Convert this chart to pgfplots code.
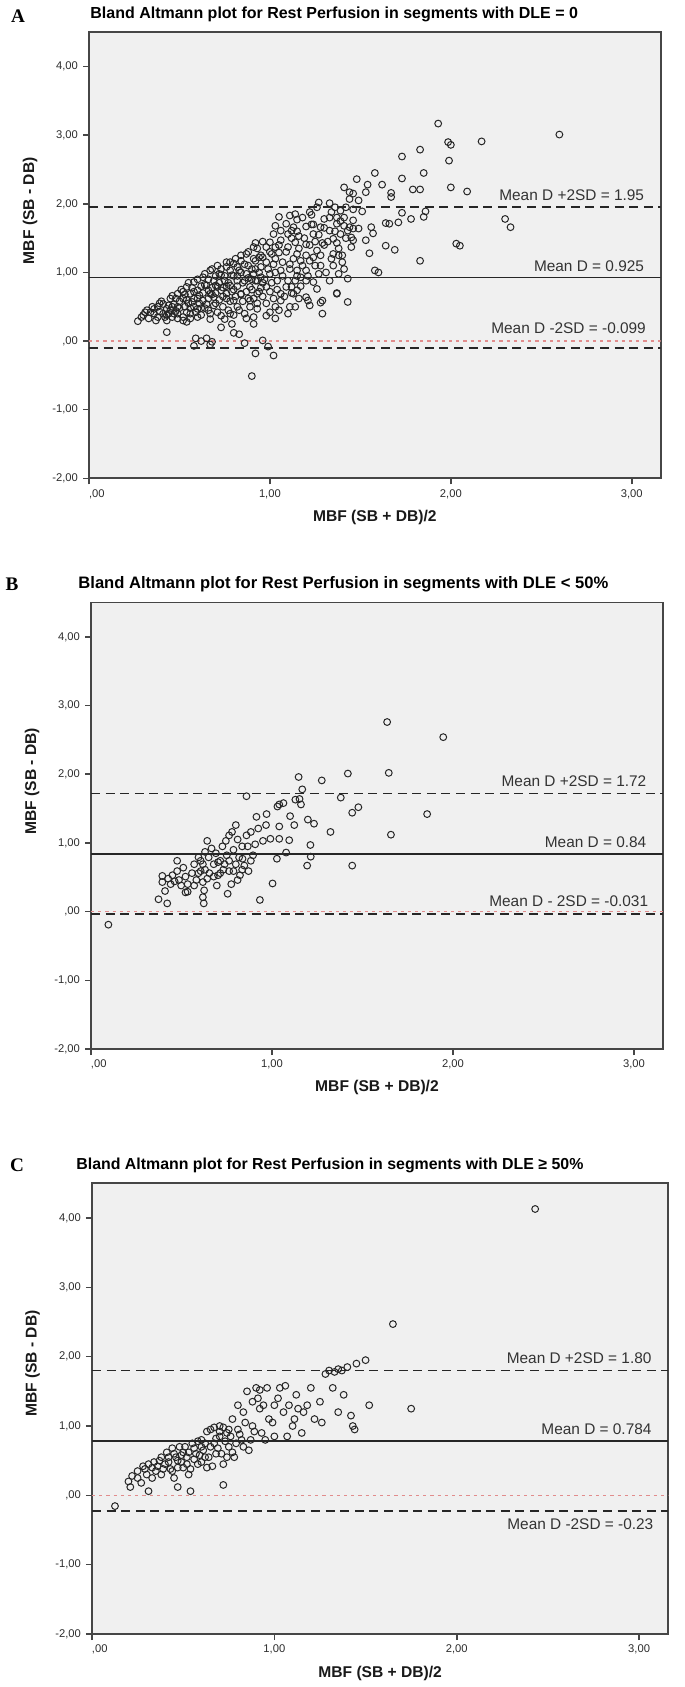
\documentclass[border=0pt]{standalone}
\usepackage{pgfplots}
\pgfplotsset{compat=1.18}
\usepackage{pgfplotstable}
\usepackage{fontspec}
\setmainfont{Liberation Sans}
\newfontfamily\serifletter{Liberation Serif}
\definecolor{bggray}{RGB}{240,240,240}
\definecolor{axisgray}{RGB}{70,70,70}
\definecolor{labgray}{RGB}{45,45,45}
\definecolor{zeroline}{RGB}{225,140,140}

\pgfplotstableread{
x y
1.93 3.17
2.60 3.01
2.17 2.91
1.985 2.90
2.00 2.86
1.83 2.79
1.73 2.69
1.99 2.63
1.58 2.45
1.85 2.45
1.48 2.36
1.73 2.37
1.54 2.28
1.62 2.28
1.41 2.24
1.79 2.21
1.83 2.21
2.00 2.24
2.09 2.18
1.53 2.17
1.46 2.15
1.44 2.17
1.67 2.16
1.67 2.10
1.44 2.07
1.49 2.05
1.46 1.92
1.51 1.89
1.73 1.87
1.78 1.78
1.85 1.81
1.86 1.89
2.30 1.78
2.33 1.66
1.64 1.72
1.66 1.71
1.71 1.73
1.56 1.66
1.57 1.57
1.53 1.47
1.55 1.28
1.64 1.39
1.69 1.33
2.03 1.42
2.05 1.39
1.83 1.17
1.58 1.03
1.60 1.00
1.43 0.91
1.43 0.57
1.29 0.40
1.28 0.56
1.37 0.70
1.03 0.33
1.02 -0.21
0.92 -0.18
0.90 -0.51
0.99 -0.08
0.96 0.01
0.86 -0.03
0.83 0.10
0.80 0.12
0.58 -0.07
0.59 0.04
0.65 0.04
0.62 0.00
0.68 -0.01
0.67 -0.05
0.27 0.29
0.43 0.13
0.34 0.42
0.73 0.20
0.79 0.25
1.27 2.02
1.33 2.01
1.26 1.95
1.34 1.88
1.23 1.84
1.30 1.78
1.37 1.71
1.41 1.68
1.49 1.64
1.46 1.64
1.39 1.56
1.35 1.49
1.46 1.47
1.37 1.43
1.30 1.40
1.38 1.25
1.40 1.15
1.35 1.10
1.41 1.05
1.38 0.98
1.33 0.88
1.27 0.98
1.26 0.76
1.28 1.10
1.20 1.03
1.22 1.17
1.15 1.27
1.17 0.93
1.12 0.79
1.22 0.52
1.11 0.50
1.10 0.40
1.06 0.69
1.03 0.50
1.00 0.42
0.98 0.37
0.93 0.47
0.91 0.25
0.87 0.33
0.91 0.35
1.06 0.59
1.20 0.64
1.15 0.74
1.24 0.86
1.35 1.27
1.29 1.43
1.24 1.56
1.20 1.67
1.15 1.77
1.13 1.66
1.09 1.71
1.10 1.56
1.06 1.47
1.03 1.37
1.02 1.56
1.00 1.44
0.98 1.37
0.92 1.43
0.91 1.37
0.94 1.22
0.87 1.27
0.84 1.17
0.80 1.13
0.76 1.15
0.71 1.10
0.67 1.03
0.63 0.93
0.58 0.86
0.54 0.79
0.49 0.69
0.45 0.62
0.41 0.54
0.36 0.47
0.38 0.35
0.43 0.30
0.49 0.33
0.54 0.28
0.60 0.35
0.67 0.40
0.73 0.37
0.78 0.40
0.82 0.50
0.80 0.59
0.76 0.69
0.71 0.79
0.67 0.69
0.63 0.59
0.58 0.50
0.54 0.42
0.49 0.50
0.45 0.45
0.41 0.40
0.47 0.54
0.52 0.62
0.56 0.69
0.60 0.74
0.65 0.81
0.69 0.88
0.73 0.96
0.78 1.03
0.82 1.08
0.87 0.98
0.82 0.88
0.78 0.81
0.73 0.74
0.69 0.64
0.65 0.54
0.60 0.47
0.56 0.40
0.52 0.35
0.47 0.40
0.43 0.47
0.38 0.50
0.36 0.40
0.39 0.43
0.43 0.38
0.46 0.35
0.49 0.40
0.53 0.50
0.57 0.57
0.61 0.67
0.66 0.74
0.70 0.81
0.75 0.88
0.79 0.96
0.83 1.03
0.88 1.10
0.92 1.17
0.96 1.22
1.01 1.27
1.05 1.29
1.10 1.37
1.14 1.44
0.95 1.08
1.00 0.98
1.04 0.88
1.09 0.79
1.13 0.69
0.98 0.79
0.93 0.69
0.89 0.59
0.84 0.69
0.89 0.79
0.93 0.88
0.91 0.98
0.95 0.93
1.02 1.12
1.06 1.03
1.11 1.12
1.15 1.03
1.17 1.17
1.14 0.88
1.20 0.88
1.24 1.22
1.26 1.32
1.20 1.41
1.16 1.53
1.12 1.61
1.24 1.70
1.28 1.66
1.33 1.61
1.37 1.80
1.39 1.90
1.22 1.88
1.18 1.80
1.06 1.61
1.03 1.68
1.05 1.81
1.11 1.83
1.14 1.85
1.14 0.50
1.16 0.62
1.21 0.59
1.29 0.59
1.37 0.69
1.40 1.25
1.45 1.37
1.45 1.51
1.43 1.61
1.41 1.80
1.46 1.76
1.44 1.66
0.40 0.58
0.42 0.35
0.44 0.52
0.46 0.66
0.48 0.44
0.50 0.58
0.51 0.75
0.52 0.30
0.53 0.68
0.55 0.55
0.55 0.85
0.56 0.33
0.57 0.78
0.58 0.62
0.59 0.42
0.60 0.90
0.61 0.55
0.62 0.80
0.62 0.38
0.63 0.70
0.64 0.98
0.64 0.48
0.66 0.62
0.66 0.90
0.67 0.32
0.68 0.78
0.68 1.05
0.69 0.52
0.70 0.70
0.70 0.95
0.71 0.42
0.72 0.60
0.72 0.85
0.73 1.05
0.74 0.50
0.74 0.78
0.75 0.95
0.75 0.32
0.76 1.08
0.76 0.62
0.77 0.45
0.77 0.85
0.78 1.15
0.79 0.72
0.80 0.95
0.80 0.38
0.81 1.20
0.81 0.65
0.82 0.80
0.83 0.45
0.84 1.00
0.84 1.25
0.85 0.58
0.85 0.85
0.86 1.12
0.86 0.40
0.87 0.72
0.88 0.92
0.88 1.30
0.89 0.50
0.90 1.05
0.90 0.75
0.91 1.20
0.91 0.62
0.92 0.88
0.93 1.35
0.93 0.55
0.94 1.00
0.95 0.78
0.95 1.25
0.96 0.65
0.96 1.45
0.97 0.90
0.98 1.15
0.98 0.55
0.99 1.05
1.00 0.72
1.00 1.30
1.01 0.85
1.02 0.62
1.03 1.00
1.03 1.20
1.04 0.75
1.05 1.40
1.05 0.45
1.07 0.95
1.07 1.15
1.08 0.65
1.09 1.30
1.10 0.88
1.11 1.05
1.12 1.50
1.12 0.70
1.13 1.20
1.15 0.95
1.15 1.60
1.16 1.35
1.17 0.80
1.18 1.10
1.19 1.50
1.20 1.25
1.21 0.95
1.22 1.40
1.23 1.70
1.25 1.10
1.25 1.45
1.27 1.55
1.28 1.25
1.30 1.65
1.31 1.00
1.32 1.45
1.33 1.80
1.34 1.20
1.36 1.60
1.36 1.95
1.38 1.35
1.39 1.75
1.42 1.50
1.42 1.95
0.44 0.40
0.46 0.50
0.48 0.62
0.50 0.48
0.52 0.72
0.54 0.60
0.56 0.48
0.58 0.72
0.60 0.62
0.62 0.48
0.64 0.82
0.66 0.45
0.68 0.68
0.70 0.55
0.72 0.98
0.74 0.65
0.76 0.80
0.78 0.58
0.80 0.75
0.82 0.95
0.84 0.68
0.86 0.88
0.88 0.62
0.90 0.90
0.92 1.05
0.94 0.72
0.96 0.85
0.30 0.38
0.32 0.45
0.33 0.33
0.35 0.50
0.37 0.30
0.39 0.55
0.31 0.42
0.29 0.35
}\dataA

\pgfplotstableread{
x y
1.636 2.76
1.946 2.54
1.147 1.96
1.275 1.91
1.419 2.01
1.645 2.02
1.167 1.78
0.859 1.68
1.129 1.63
1.152 1.64
1.160 1.56
1.380 1.66
1.477 1.52
1.443 1.44
1.857 1.42
1.030 1.53
1.040 1.56
1.063 1.58
0.970 1.42
0.914 1.38
1.100 1.39
1.198 1.34
1.232 1.28
1.123 1.26
1.040 1.24
0.967 1.26
0.924 1.21
0.883 1.16
1.323 1.16
1.657 1.12
1.095 1.04
0.991 1.06
1.040 1.06
0.950 1.03
1.212 0.97
1.078 0.86
1.214 0.80
1.027 0.77
1.194 0.67
1.443 0.67
1.003 0.41
0.933 0.17
0.373 0.18
0.421 0.12
0.623 0.12
0.618 0.21
0.755 0.26
0.096 -0.19
0.409 0.30
0.534 0.29
0.625 0.31
0.476 0.74
0.394 0.52
0.394 0.43
0.426 0.48
0.450 0.53
0.440 0.40
0.476 0.59
0.486 0.46
0.510 0.64
0.522 0.51
0.534 0.40
0.558 0.56
0.570 0.69
0.582 0.46
0.594 0.79
0.606 0.59
0.618 0.69
0.630 0.87
0.642 1.03
0.650 0.79
0.654 0.56
0.666 0.92
0.678 0.69
0.690 0.85
0.695 0.38
0.702 0.53
0.714 0.74
0.726 0.95
0.731 0.61
0.745 1.03
0.750 0.82
0.763 1.11
0.763 0.59
0.775 0.40
0.779 1.16
0.787 0.90
0.800 0.69
0.810 1.05
0.818 0.79
0.823 0.53
0.835 0.95
0.847 0.67
0.859 1.11
0.866 0.95
0.883 0.74
0.895 0.82
0.907 0.98
0.837 0.77
0.800 1.26
0.594 0.56
0.570 0.38
0.522 0.28
0.498 0.38
0.462 0.44
0.618 0.43
0.642 0.48
0.678 0.51
0.714 0.56
0.738 0.69
0.763 0.74
0.630 0.61
0.606 0.74
0.702 0.72
0.787 0.59
0.835 0.61
0.870 0.59
0.810 0.46
}\dataB

\pgfplotstableread{
x y
0.126 -0.155
0.21 0.12
0.31 0.06
0.47 0.12
0.54 0.06
0.20 0.20
0.22 0.28
0.25 0.35
0.28 0.42
0.30 0.30
0.33 0.40
0.35 0.35
0.37 0.50
0.38 0.30
0.40 0.45
0.42 0.55
0.43 0.38
0.45 0.60
0.45 0.25
0.47 0.50
0.48 0.70
0.50 0.40
0.50 0.62
0.52 0.55
0.53 0.30
0.55 0.75
0.57 0.60
0.58 0.45
0.60 0.70
0.60 0.80
0.62 0.55
0.63 0.40
0.65 0.95
0.67 0.75
0.68 0.60
0.70 1.00
0.70 0.85
0.72 0.45
0.72 0.15
0.74 0.90
0.75 0.70
0.77 1.10
0.78 0.55
0.80 0.95
0.80 1.30
0.82 0.80
0.83 1.20
0.85 1.50
0.86 0.65
0.88 1.00
0.88 1.35
0.90 1.55
0.92 1.25
0.93 0.90
0.95 0.80
0.97 1.10
1.00 1.30
1.00 0.85
1.03 1.55
1.05 1.20
1.07 0.85
1.10 1.00
1.12 1.45
1.13 1.25
1.15 0.90
1.18 1.30
1.20 1.55
1.22 1.10
1.25 1.35
1.28 1.75
1.30 1.80
1.32 1.55
1.35 1.20
1.38 1.45
1.40 1.85
1.42 1.15
1.43 1.00
1.44 0.95
1.50 1.95
1.52 1.30
1.65 2.47
1.75 1.25
2.43 4.13
0.25 0.25
0.27 0.18
0.29 0.38
0.31 0.45
0.33 0.25
0.34 0.48
0.36 0.42
0.38 0.55
0.39 0.38
0.41 0.62
0.42 0.48
0.44 0.35
0.44 0.68
0.46 0.55
0.47 0.40
0.49 0.58
0.49 0.48
0.51 0.70
0.52 0.45
0.53 0.62
0.54 0.38
0.56 0.68
0.56 0.52
0.58 0.78
0.59 0.58
0.60 0.48
0.61 0.65
0.62 0.75
0.63 0.92
0.64 0.55
0.65 0.70
0.66 0.42
0.67 0.98
0.68 0.82
0.69 0.68
0.70 0.92
0.71 0.60
0.72 0.98
0.73 0.78
0.74 0.55
0.75 0.95
0.76 0.85
0.77 0.62
0.79 0.75
0.81 0.88
0.83 0.70
0.84 1.05
0.87 0.80
0.89 0.92
0.91 1.40
0.92 1.52
0.94 1.30
0.96 1.55
0.99 1.05
1.02 1.40
1.06 1.58
1.08 1.30
1.11 1.10
1.16 1.20
1.26 1.05
1.33 1.78
1.35 1.82
1.37 1.80
1.45 1.90
}\dataC

\pgfplotsset{
  ba/.style={
    scale only axis,
    xmin=0, xmax=3.16, ymin=-2, ymax=4.5,
    axis background/.style={fill=bggray},
    axis line style={draw=axisgray, line width=0.9pt},
    xtick={0,1,2,3}, ytick={-2,-1,0,1,2,3,4},
    xticklabels={{\makebox[0pt][l]{,00}},{1,00},{2,00},{3,00}},
    yticklabels={{-2,00},{-1,00},{,00},{1,00},{2,00},{3,00},{4,00}},
    tick align=outside, major tick length=3pt,
    xtick pos=left, ytick pos=left,
    tick style={draw=axisgray, line width=0.8pt},
    ticklabel style={font=\fontsize{5.6}{6}\selectfont, text=labgray},
    xticklabel style={yshift=1pt},
    yticklabel style={xshift=1pt},
    xlabel={MBF (SB + DB)/2}, ylabel={MBF (SB - DB)},
    label style={font=\fontsize{7.8}{9}\selectfont\bfseries, text=black!90},
    xlabel style={at={(axis description cs:0.5,-0.087)}, anchor=center},
    ylabel style={at={(axis description cs:-0.103,0.6)}, anchor=center},
  },
  pts/.style={only marks, mark=o, mark size=1.7pt,
    mark options={line width=0.5pt, draw=black!85}},
  dline/.style={black!85, line width=0.9pt, dash pattern=on 4.5pt off 2.8pt},
  mline/.style={black!85, line width=0.8pt},
  zline/.style={zeroline, line width=0.6pt, dash pattern=on 1.6pt off 2pt},
}
\tikzset{ann/.style={font=\fontsize{7.7}{9}\selectfont, text=black!80, inner sep=0pt},
  ttl/.style={anchor=west, inner sep=0pt}}

\begin{document}
\begin{tikzpicture}
\path[use as bounding box] (0,0) rectangle (342.5pt,-843.5pt);

% ---------- Panel A ----------
\node[font=\serifletter\bfseries\fontsize{9.6}{11}\selectfont] at (9pt,-8pt) {A};
\node[ttl, font=\fontsize{8.0}{9}\selectfont\bfseries] at (45pt,-7pt)
  {Bland Altmann plot for Rest Perfusion in segments with DLE = 0};
\begin{axis}[ba, at={(44.5pt,-239.15pt)}, anchor=south west,
  width=285.85pt, height=223pt]
\addplot[zline] coordinates {(0,0) (3.16,0)};
\addplot[dline] coordinates {(0,1.95) (3.16,1.95)};
\addplot[mline] coordinates {(0,0.925) (3.16,0.925)};
\addplot[dline] coordinates {(0,-0.099) (3.16,-0.099)};
\addplot[pts] table[x=x,y=y] {\dataA};
\node[ann, anchor=base east, yshift=3.5pt] at (axis cs:3.07,1.95) {Mean D +2SD = 1.95};
\node[ann, anchor=base east, yshift=3pt] at (axis cs:3.07,0.925) {Mean D = 0.925};
\node[ann, anchor=base east, yshift=7pt] at (axis cs:3.08,-0.099) {Mean D -2SD = -0.099};
\end{axis}

% ---------- Panel B ----------
\node[font=\serifletter\bfseries\fontsize{9.6}{11}\selectfont] at (6pt,-292pt) {B};
\node[ttl, font=\fontsize{8.3}{9}\selectfont\bfseries] at (39pt,-292pt)
  {Bland Altmann plot for Rest Perfusion in segments with DLE < 50\%};
\begin{axis}[ba, at={(45.5pt,-524.5pt)}, anchor=south west,
  width=286pt, height=223.25pt]
\addplot[zline] coordinates {(0,0) (3.16,0)};
\addplot[dline] coordinates {(0,1.72) (3.16,1.72)};
\addplot[mline] coordinates {(0,0.84) (3.16,0.84)};
\addplot[dline] coordinates {(0,-0.031) (3.16,-0.031)};
\addplot[pts] table[x=x,y=y] {\dataB};
\node[ann, anchor=base east, yshift=3.5pt] at (axis cs:3.07,1.72) {Mean D +2SD = 1.72};
\node[ann, anchor=base east, yshift=3pt] at (axis cs:3.07,0.84) {Mean D = 0.84};
\node[ann, anchor=base east, yshift=3.5pt] at (axis cs:3.08,-0.031) {Mean D - 2SD = -0.031};
\end{axis}

% ---------- Panel C ----------
\node[font=\serifletter\bfseries\fontsize{9.6}{11}\selectfont] at (8.5pt,-582.5pt) {C};
\node[ttl, font=\fontsize{7.95}{9}\selectfont\bfseries] at (38pt,-582.5pt)
  {Bland Altmann plot for Rest Perfusion in segments with DLE ≥ 50\%};
\begin{axis}[ba, at={(46pt,-817pt)}, anchor=south west,
  width=288.15pt, height=225.35pt]
\addplot[zline] coordinates {(0,0) (3.16,0)};
\addplot[dline] coordinates {(0,1.80) (3.16,1.80)};
\addplot[mline] coordinates {(0,0.784) (3.16,0.784)};
\addplot[dline] coordinates {(0,-0.23) (3.16,-0.23)};
\addplot[pts] table[x=x,y=y] {\dataC};
\node[ann, anchor=base east, yshift=3.5pt] at (axis cs:3.07,1.80) {Mean D +2SD = 1.80};
\node[ann, anchor=base east, yshift=3pt] at (axis cs:3.07,0.784) {Mean D = 0.784};
\node[ann, anchor=base east, yshift=-9.3pt] at (axis cs:3.08,-0.23) {Mean D -2SD = -0.23};
\end{axis}
\end{tikzpicture}
\end{document}
